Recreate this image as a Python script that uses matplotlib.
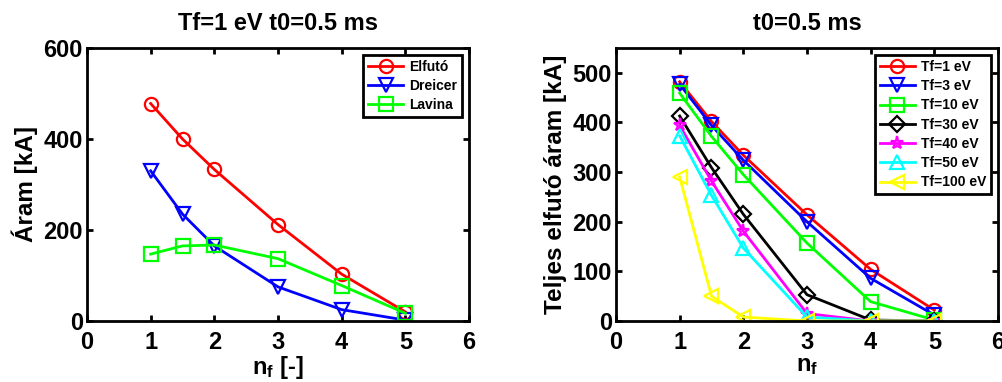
import matplotlib
matplotlib.use("Agg")
import matplotlib.pyplot as plt

plt.rcParams['font.family'] = ['Liberation Sans', 'DejaVu Sans']
plt.rcParams['font.weight'] = 'bold'
plt.rcParams['mathtext.fontset'] = 'custom'
plt.rcParams['mathtext.rm'] = 'Liberation Sans:bold'
plt.rcParams['mathtext.bf'] = 'Liberation Sans:bold'
plt.rcParams['mathtext.it'] = 'Liberation Sans:bold'

# ---- left panel data ----
nf_left = [1, 1.5, 2, 3, 4, 5]
elfuto = [478, 400, 333, 212, 103, 20]
dreicer = [330, 235, 165, 75, 25, 2]
lavina = [147, 165, 167, 137, 78, 17]
left_labels = ['Elfutó', 'Dreicer', 'Lavina']

# ---- right panel data ----
nf_right = [1, 1.5, 2, 3, 4, 5]
tf1 = [482, 402, 334, 214, 104, 22]
tf3 = [477, 394, 324, 200, 86, 12]
tf10 = [459, 372, 295, 157, 39, 2]
tf30 = [413, 309, 215, 53, 2, 0]
tf40 = [394, 282, 181, 15, 0, 0]
tf50 = [373, 253, 147, 8, 0, 0]
tf100 = [290, 50, 8, 0, 0, 0]
right_labels = ['Tf=1 eV', 'Tf=3 eV', 'Tf=10 eV', 'Tf=30 eV', 'Tf=40 eV', 'Tf=50 eV', 'Tf=100 eV']

W, H = 1003, 382
fig = plt.figure(figsize=(W/100, H/100), dpi=100)

ax1 = fig.add_axes([87/W, (H-321)/H, (469-87)/W, (321-48)/H])
ax2 = fig.add_axes([616/W, (H-321)/H, (998-616)/W, (321-48)/H])

lw = 2.0
ms = 9.5
mew = 1.6
FS = 17

def style(ax):
    for s in ax.spines.values():
        s.set_linewidth(2.0)
    ax.tick_params(direction='in', top=True, right=True, width=2, length=4,
                   labelsize=FS)
    ax.tick_params(axis='x', pad=7)
    ax.tick_params(axis='y', pad=3)
    for lab in ax.get_xticklabels() + ax.get_yticklabels():
        lab.set_fontweight('bold')

legkw = dict(loc='upper right', prop={'weight': 'bold', 'size': 10},
             fancybox=False, edgecolor='black', framealpha=1,
             handlelength=2.5, borderaxespad=0.5, labelspacing=0.38,
             borderpad=0.35, handletextpad=0.45)

mk = dict(markerfacecolor='none', markersize=ms, markeredgewidth=mew, linewidth=lw)
ax1.plot(nf_left, elfuto, color='#ff0000', marker='o', label=left_labels[0], **mk)
ax1.plot(nf_left, dreicer, color='#0000ff', marker='v', label=left_labels[1], **mk)
ax1.plot(nf_left, lavina, color='#00ff00', marker='s', label=left_labels[2], **mk)
ax1.set_xlim(0, 6)
ax1.set_ylim(0, 600)
ax1.set_xticks(range(0, 7))
ax1.set_yticks([0, 200, 400, 600])
style(ax1)
ax1.set_title('Tf=1 eV t0=0.5 ms', fontsize=FS, fontweight='bold', pad=13)
ax1.set_xlabel(r'n$_{\mathrm{f}}$ [-]', fontsize=FS, fontweight='bold', labelpad=0)
ax1.set_ylabel('Áram [kA]', fontsize=17.5, fontweight='bold', labelpad=4)
leg1 = ax1.legend(**legkw)
leg1.get_frame().set_linewidth(2)

series = [tf1, tf3, tf10, tf30, tf40, tf50, tf100]
colors = ['#ff0000', '#0000ff', '#00ff00', '#000000', '#ff00ff', '#00ffff', '#ffff00']
markers = ['o', 'v', 's', 'D', '*', '^', '<']
for y, c, m, lab in zip(series, colors, markers, right_labels):
    kw = dict(mk)
    if m == 'D':
        kw['markersize'] = 8
    ax2.plot(nf_right, y, color=c, marker=m, label=lab, **kw)
ax2.set_xlim(0, 6)
ax2.set_ylim(0, 550)
ax2.set_xticks(range(0, 7))
ax2.set_yticks([0, 100, 200, 300, 400, 500])
style(ax2)
ax2.set_title('t0=0.5 ms', fontsize=FS, fontweight='bold', pad=13)
ax2.set_xlabel(r'n$_{\mathrm{f}}$', fontsize=FS, fontweight='bold', labelpad=0)
ax2.set_ylabel('Teljes elfutó áram [kA]', fontsize=17.5, fontweight='bold', labelpad=4)
leg2 = ax2.legend(**legkw)
leg2.get_frame().set_linewidth(2)

fig.savefig('out.png', dpi=100)
